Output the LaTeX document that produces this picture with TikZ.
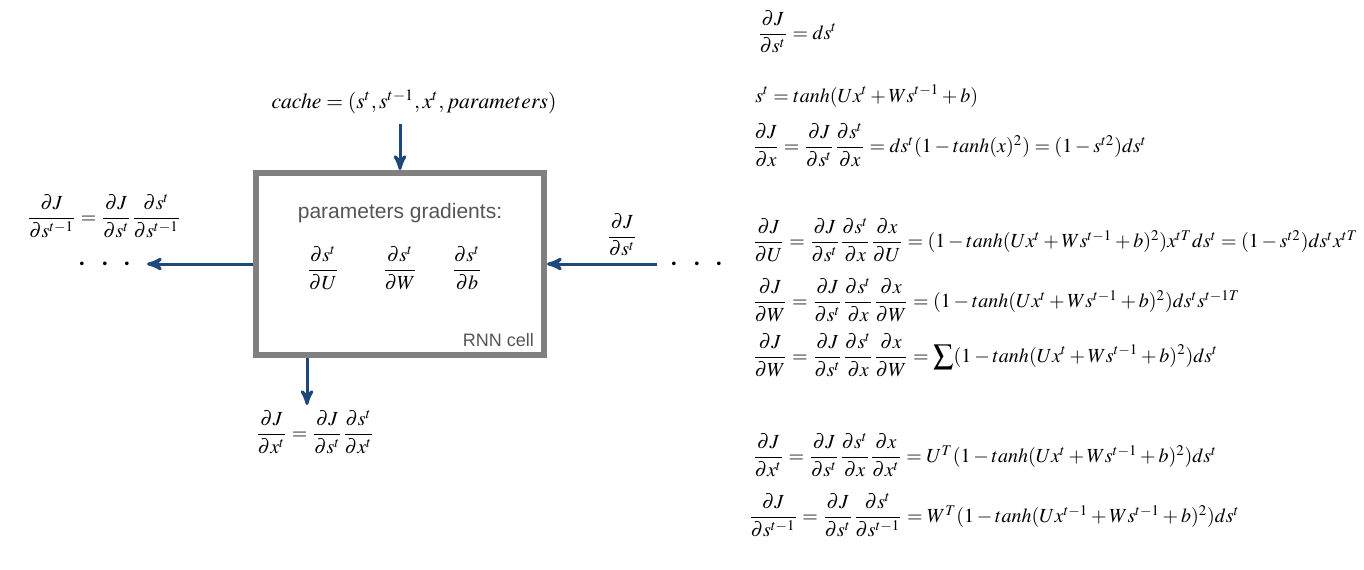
\documentclass[tikz,border=0pt]{standalone}
\usepackage{amsmath}
\usepackage{mathptmx}
\usepackage{fontspec}
\setmainfont{Liberation Serif}
\setsansfont{Liberation Sans}
\definecolor{colorFlow}{RGB}{30,72,122}
\definecolor{colorCell}{RGB}{128,128,128}
\definecolor{colorNote}{RGB}{85,85,85}
\usetikzlibrary{arrows, positioning}
\tikzset{eq/.style={anchor=west, inner sep=0pt}}
\newcommand{\pd}[2]{\dfrac{\partial #1}{\partial #2}}

\begin{document}
\begin{tikzpicture}[>=stealth', x=0.5pt, y=-0.5pt, node distance=8pt,
  flow/.style={->, colorFlow, line width=1.5pt},
  dots/.style={font=\LARGE, inner sep=0pt}]
\useasboundingbox (0,0) rectangle (1364,569);
% the cell
\node[draw=colorCell, line width=3pt, minimum width=144pt, minimum height=91pt] (cell) at (400,264) {};
\node[font=\sffamily\fontsize{10.5}{12}\selectfont, text=colorNote] (pg) at (400,213) {parameters gradients:};
\node (dU) at (323,268) {$\pd{s^t}{U}$};
\node (dW) at (400,268) {$\pd{s^t}{W}$};
\node (db) at (467,268) {$\pd{s^t}{b}$};
\node[font=\sffamily\small, text=colorNote, above left=2pt and 3pt of cell.south east] (rnn) {RNN cell};
% inputs and outputs
\node[font=\fontsize{10.8}{12}\selectfont] (cache) at (414,102) {$cache = (s^t, s^{t-1}, x^t, parameters)$};
\node[inner sep=1pt] (dsPrev) at (104,216) {$\pd{J}{s^{t-1}} = \pd{J}{s^t}\pd{s^t}{s^{t-1}}$};
\node (dsIn) at (622,235) {$\pd{J}{s^t}$};
\node (dxOut) at (315,432) {$\pd{J}{x^t} = \pd{J}{s^t}\pd{s^t}{x^t}$};
\node[dots] (ldots) at (105,265) {$\cdot\hspace{4pt}\cdot\hspace{4pt}\cdot$};
\node[dots] (rdots) at (697,265) {$\cdot\hspace{4pt}\cdot\hspace{4pt}\cdot$};
\coordinate (inTop) at (400,124);
\coordinate (toPrev) at (147,264);
\coordinate (fromNext) at (657,264);
\coordinate (outX) at (307,405);
\draw[flow] (inTop) -- (cell.north);
\draw[flow] (cell.west) -- (toPrev);
\draw[flow] (fromNext) -- (cell.east);
\draw[flow] (cell.south -| outX) -- (outX);
% equations
\node[eq] (eqDs) at (757,32) {$\pd{J}{s^t} = ds^t$};
\node[eq] (eqS) at (755,96) {$s^t = tanh(Ux^t + Ws^{t-1} + b)$};
\node[eq] (eqX) at (752,145) {$\pd{J}{x} = \pd{J}{s^t}\pd{s^t}{x} = ds^t(1 - tanh(x)^2) = (1 - s^{t2})ds^t$};
\node[eq] (eqU) at (752,240) {$\pd{J}{U} = \pd{J}{s^t}\pd{s^t}{x}\pd{x}{U} = (1 - tanh(Ux^t + Ws^{t-1} + b)^2)x^{tT}ds^t = (1 - s^{t2})ds^tx^{tT}$};
\node[eq] (eqW) at (752,300) {$\pd{J}{W} = \pd{J}{s^t}\pd{s^t}{x}\pd{x}{W} = (1 - tanh(Ux^t + Ws^{t-1} + b)^2)ds^ts^{t-1T}$};
\node[eq] (eqWsum) at (752,355) {$\displaystyle\pd{J}{W} = \pd{J}{s^t}\pd{s^t}{x}\pd{x}{W} = \sum(1 - tanh(Ux^t + Ws^{t-1} + b)^2)ds^t$};
\node[eq] (eqXt) at (752,455) {$\pd{J}{x^t} = \pd{J}{s^t}\pd{s^t}{x}\pd{x}{x^t} = U^T(1 - tanh(Ux^t + Ws^{t-1} + b)^2)ds^t$};
\node[eq] (eqSprev) at (748,515) {$\pd{J}{s^{t-1}} = \pd{J}{s^t}\pd{s^t}{s^{t-1}} = W^T(1 - tanh(Ux^{t-1} + Ws^{t-1} + b)^2)ds^t$};
\end{tikzpicture}
\end{document}
